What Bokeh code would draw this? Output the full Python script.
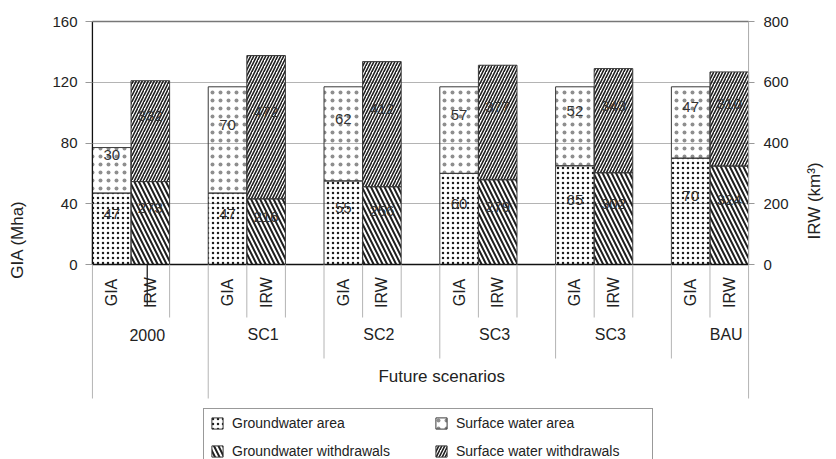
import math
from bokeh.plotting import figure
from bokeh.models import Range1d, LinearAxis, FixedTicker, Legend, LegendItem
from bokeh.embed import file_html
from bokeh.resources import INLINE
from bokeh.core.properties import value

# ---------------- data ----------------
groups = ["2000", "SC1", "SC2", "SC3", "SC3", "BAU"]
bar_names = ["GIA", "IRW"]
super_group = "Future scenarios"
gw_area = [47, 47, 55, 60, 65, 70]          # Mha
sw_area = [30, 70, 62, 57, 52, 47]          # Mha
gw_withdrawal = [273, 216, 256, 279, 302, 324]  # km3
sw_withdrawal = [332, 472, 412, 377, 343, 310]  # km3
gia_ticks = [0, 40, 80, 120, 160]
irw_ticks = [0, 200, 400, 600, 800]
series_names = ["Groundwater area", "Surface water area",
                "Groundwater withdrawals", "Surface water withdrawals"]

# ---------------- layout constants ----------------
FONT = "Liberation Sans"
TXT = "#222222"
W, H = 836, 459
PX = 243 / 160.0               # pixels per GIA unit
ZERO_Y = 264                   # pixel row of the zero line
TOP = 19
ymax = 160 + (ZERO_Y - TOP - 243) / PX
ymin = -(H - ZERO_Y) / PX
RATIO = irw_ticks[-1] / gia_ticks[-1]
n_slots = 3 * len(groups) - 1

def below(px):
    return -px / PX

p = figure(width=W, height=H, x_range=Range1d(-0.05, n_slots + 0.05),
           y_range=Range1d(ymin, ymax), x_axis_type=None,
           output_backend="svg", toolbar_location=None,
           min_border_left=90, min_border_right=82, min_border_top=TOP,
           min_border_bottom=0, outline_line_color=None)
p.extra_y_ranges = {"irw": Range1d(ymin * RATIO, ymax * RATIO)}

# ---------------- axes ----------------
ya = p.yaxis[0]
ya.ticker = FixedTicker(ticks=gia_ticks)
ya.axis_line_color = None
ya.major_tick_in = 2
ya.major_tick_out = 5
ya.major_tick_line_color = "#999999"
ya.minor_tick_line_color = None
ya.major_label_standoff = 8
ya.major_label_text_font = FONT
ya.major_label_text_font_size = "15px"
ya.major_label_text_color = TXT
ya.axis_label = "GIA (Mha)"
ya.axis_label_text_font = FONT
ya.axis_label_text_font_size = "17px"
ya.axis_label_text_font_style = "normal"
ya.axis_label_text_color = TXT
ya.axis_label_standoff = 22

ra = LinearAxis(y_range_name="irw", ticker=FixedTicker(ticks=irw_ticks))
ra.axis_line_color = None
ra.major_tick_in = 2
ra.major_tick_out = 4
ra.major_tick_line_color = "#999999"
ra.minor_tick_line_color = None
ra.major_label_standoff = 9
ra.major_label_text_font = FONT
ra.major_label_text_font_size = "15px"
ra.major_label_text_color = TXT
ra.axis_label = "IRW (km³)"
ra.axis_label_text_font = FONT
ra.axis_label_text_font_size = "17px"
ra.axis_label_text_font_style = "normal"
ra.axis_label_text_color = TXT
ra.axis_label_standoff = 23
try:
    ra.axis_label_orientation = math.pi / 2
except Exception:
    pass
p.add_layout(ra, "right")

p.ygrid.ticker = FixedTicker(ticks=gia_ticks)
p.ygrid.grid_line_color = "#b4b4b4"
p.ygrid.grid_line_width = 1
p.xgrid.grid_line_color = None

# ---------------- bars ----------------
gia_x = [3 * i + 0.5 for i in range(len(groups))]
irw_x = [3 * i + 1.5 for i in range(len(groups))]
gia_tot = [a + b for a, b in zip(gw_area, sw_area)]
irw_tot = [a + b for a, b in zip(gw_withdrawal, sw_withdrawal)]

common = dict(width=1.0, fill_alpha=0, line_color="#3a3a3a", line_width=1,
              hatch_color="#1e1e1e")
r1 = p.vbar(x=gia_x, bottom=0, top=gw_area, hatch_pattern="dot",
            hatch_scale=5, hatch_weight=2, **common)
r2 = p.vbar(x=gia_x, bottom=gw_area, top=gia_tot, hatch_pattern="dot",
            hatch_scale=8, hatch_weight=1, hatch_alpha=0.5, **common)
r3 = p.vbar(x=irw_x, bottom=0, top=gw_withdrawal, y_range_name="irw",
            hatch_pattern="left_diagonal_line", hatch_scale=9, hatch_weight=2,
            **common)
r4 = p.vbar(x=irw_x, bottom=gw_withdrawal, top=irw_tot, y_range_name="irw",
            hatch_pattern="right_diagonal_line", hatch_scale=6, hatch_weight=1.6,
            **common)

# ---------------- value labels ----------------
LAB_UP = 15  # px above segment centre
lab_x = gia_x * 2 + irw_x * 2
lab_y = ([v / 2 + LAB_UP / PX for v in gw_area] +
         [a + b / 2 + LAB_UP / PX for a, b in zip(gw_area, sw_area)] +
         [(v / 2) / RATIO + LAB_UP / PX for v in gw_withdrawal] +
         [(a + b / 2) / RATIO + LAB_UP / PX for a, b in zip(gw_withdrawal, sw_withdrawal)])
lab_t = [str(v) for v in gw_area + sw_area + gw_withdrawal + sw_withdrawal]
p.text(x=lab_x, y=lab_y, text=lab_t, text_align="center", text_baseline="middle",
       text_font=value(FONT), text_font_size="15px", text_color="#333333")

# ---------------- frame lines ----------------
p.segment(x0=[0, 0], y0=[0, 0], x1=[0, n_slots], y1=[160, 0],
          line_color="#111111", line_width=1.3)
p.segment(x0=[0], y0=[160], x1=[n_slots], y1=[160], line_color="#777777", line_width=1.3)
p.segment(x0=[n_slots], y0=[0], x1=[n_slots], y1=[160], line_color="#aaaaaa", line_width=1)

# ---------------- multi-level category axis ----------------
L1, L2, L3 = below(53), below(94), below(134)
sx0, sy1 = [], []
for i in range(len(groups)):
    s = 3 * i
    if i > 0:
        sx0.append(s + 1); sy1.append(L1)
    if i < len(groups) - 1:
        sx0.append(s + 2); sy1.append(L1)
    if i >= 2:
        sx0.append(s); sy1.append(L2)
for xx in (0, 3, n_slots):
    sx0.append(xx); sy1.append(L3)
p.segment(x0=sx0, y0=[0] * len(sx0), x1=sx0, y1=sy1, line_color="#b4b4b4", line_width=1)
# stray dark tick under the first group
p.segment(x0=[1.42], y0=[0], x1=[1.42], y1=[below(41)], line_color="#222222", line_width=1.3)

p.text(x=[3 * i + 0.5 + k for i in range(len(groups)) for k in range(2)],
       y=[below(28)] * (2 * len(groups)),
       text=[bar_names[k] for i in range(len(groups)) for k in range(2)],
       angle=math.pi / 2, text_align="center", text_baseline="middle",
       text_font=value(FONT), text_font_size="16px", text_color=TXT)
p.text(x=[3 * i + 1.42 for i in range(len(groups))], y=[below(70)] * len(groups),
       text=groups, text_align="center", text_baseline="middle",
       text_font=value(FONT), text_font_size="16px", text_color=TXT)
p.text(x=[9.05], y=[below(112)], text=[super_group], text_align="center",
       text_baseline="middle", text_font=value(FONT), text_font_size="17px",
       text_color=TXT)

# ---------------- legend ----------------
legend = Legend(items=[LegendItem(label=series_names[0], renderers=[r1]),
                       LegendItem(label=series_names[1], renderers=[r2]),
                       LegendItem(label=series_names[2], renderers=[r3]),
                       LegendItem(label=series_names[3], renderers=[r4])],
                orientation="horizontal", ncols=2, location=(113, -7),
                padding=6, margin=0, spacing=12, glyph_width=14, glyph_height=14,
                label_height=16, label_standoff=8, label_width=190,
                label_text_font=FONT, label_text_font_size="14px",
                label_text_color=TXT, border_line_color="#333333",
                border_line_width=1, background_fill_color="white",
                background_fill_alpha=1)
p.add_layout(legend)

open("out.html", "w").write(file_html(p, INLINE))
